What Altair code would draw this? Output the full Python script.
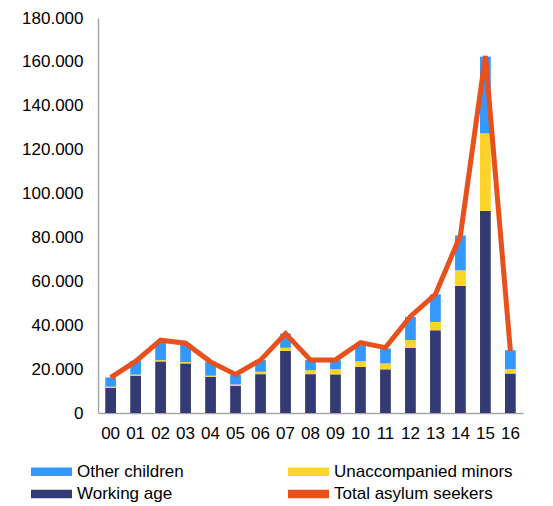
import altair as alt
import pandas as pd

years = ["00","01","02","03","04","05","06","07","08","09","10","11","12","13","14","15","16"]
working_age = [11500,17000,23500,22600,16500,12400,17700,28300,17700,17600,21000,19900,29700,37700,57900,92100,18000]
unaccompanied = [500,500,600,600,500,600,1100,1400,1800,2300,2600,2700,3500,3800,7100,35300,2000]
other_children = [4200,6300,8600,8500,6300,4300,5300,6500,4600,4200,7300,6800,10600,12600,15900,35000,8600]
total = [16100,23500,33200,31800,23300,17600,24100,36200,24100,24200,32100,29800,44000,54100,80900,162700,28300]

series_names = ["Other children", "Working age", "Unaccompanied minors", "Total asylum seekers"]
series_colors = ["#3399FF", "#343A73", "#FFD42A", "#E8501C"]
stack_order = {"Working age": 0, "Unaccompanied minors": 1, "Other children": 2}

rows = []
for i, y in enumerate(years):
    for name, vals in (("Working age", working_age), ("Unaccompanied minors", unaccompanied), ("Other children", other_children)):
        rows.append({"year": y, "series": name, "value": vals[i], "ord": stack_order[name]})
bars_df = pd.DataFrame(rows)
line_df = pd.DataFrame({"year": years, "total": total})

FONT = "Liberation Sans"

x_enc = alt.X("year:N", sort=years, title=None,
              scale=alt.Scale(paddingInner=0.57, paddingOuter=0.29),
              axis=alt.Axis(labelAngle=0, ticks=False, tickSize=0, labelPadding=12,
                            labelFontSize=17, labelFont=FONT, labelColor="#000000",
                            domainColor="#A6A6A6", domainWidth=1.5))

y_scale = alt.Scale(domain=[0, 180000], nice=False)

rect_path = "M-2,-0.42H2V0.42H-2Z"

bars = alt.Chart(bars_df).mark_bar().encode(
    x=x_enc,
    y=alt.Y("value:Q", stack="zero", scale=y_scale, title=None,
            axis=alt.Axis(values=list(range(0, 180001, 20000)), ticks=False, tickSize=0,
                          labelPadding=15, labelFontSize=17, labelFont=FONT, labelColor="#000000",
                          domainColor="#A6A6A6", domainWidth=1.5, grid=False,
                          labelExpr="replace(format(datum.value, ','), ',', '.')")),
    color=alt.Color("series:N",
                    scale=alt.Scale(domain=series_names, range=series_colors),
                    legend=alt.Legend(title=None, orient="none", legendX=-57, legendY=443,
                                      columns=2, columnPadding=104, rowPadding=3.5,
                                      symbolType=rect_path, symbolSize=420, symbolStrokeWidth=0,
                                      labelFontSize=17, labelFont=FONT, labelColor="#000000",
                                      labelOffset=15, labelLimit=300, padding=0)),
    order=alt.Order("ord:Q", sort="ascending"),
)

line = alt.Chart(line_df).mark_line(color="#E8501C", strokeWidth=5).encode(
    x=alt.X("year:N", sort=years),
    y=alt.Y("total:Q", scale=y_scale),
)

chart = alt.layer(bars, line).properties(
    width=425, height=395,
    autosize=alt.AutoSizeParams(type="none"),
    padding={"left": 90, "top": 10, "right": 20, "bottom": 92},
).configure_view(stroke=None)

chart.save("out.html", embed_options={"renderer": "svg", "actions": False})
